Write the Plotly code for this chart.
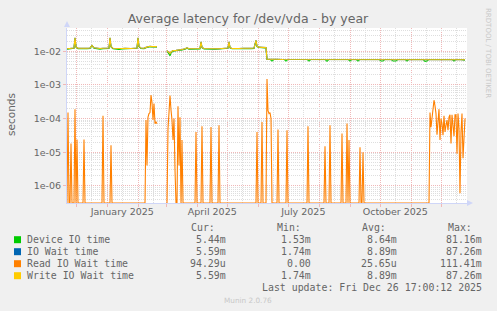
import math
import pandas as pd
import plotly.graph_objects as go

# ---------------- data ----------------
START = pd.Timestamp("2024-11-21 17:00")   # graph covers the last 400 days
SPAN_DAYS = 400

# Write IO Wait time (seconds) sampled at day offsets from START
level_days = [0, 2, 5, 7, 8, 9, 11, 14, 17, 20, 23, 25, 27, 30, 33, 36, 39, 42, 43, 44,
              46, 49, 52, 55, 58, 61, 64, 67, 70, 71, 72, 74, 77, 79, 81, 83, 85, 87, 89, 90,
              95,
              100, 102, 103, 104, 106, 109, 112, 115, 118, 120, 122, 125, 128, 131, 133, 134, 135, 137, 140,
              144, 148, 152, 156, 159, 161, 162, 163, 165, 168, 172, 176, 180, 184, 187, 189, 190, 192, 195, 198,
              199, 200, 204, 210, 216, 222, 228, 234, 240, 246, 252, 258, 264, 270, 276, 282, 288, 294, 300, 306,
              312, 318, 324, 330, 336, 342, 348, 354, 360, 366, 372, 378, 384, 390, 394, 398]
write_vals = [0.0118, 0.0121, 0.0123, 0.0125, 0.025, 0.0135, 0.0122, 0.0121, 0.0119, 0.0122,
              0.0124, 0.0150, 0.0126, 0.0121, 0.0120, 0.0122, 0.0121, 0.0124, 0.025, 0.0138,
              0.0122, 0.0120, 0.0119, 0.0121, 0.0122, 0.0120, 0.0121, 0.0123, 0.0125, 0.025,
              0.0140, 0.0124, 0.0122, 0.0130, 0.0138, 0.0140, 0.0137, 0.0141, 0.0138, 0.0136,
              None,
              0.0105, 0.0090, 0.0085, 0.0095, 0.0104, 0.0106, 0.0108, 0.0112, 0.0118, 0.0126,
              0.0118, 0.0117, 0.0118, 0.0117, 0.0120, 0.0190, 0.0130, 0.0120, 0.0118,
              0.0120, 0.0118, 0.0119, 0.0121, 0.0120, 0.0125, 0.0190, 0.0128, 0.0121, 0.0119,
              0.0121, 0.0122, 0.0120, 0.0122, 0.0124, 0.0210, 0.0140, 0.0132, 0.0130, 0.0131,
              0.0128, 0.0058, 0.0057, 0.0058, 0.0057, 0.0057, 0.0058, 0.0057, 0.0057, 0.0058,
              0.0057, 0.0057, 0.0057, 0.0058, 0.0057, 0.0057, 0.0056, 0.0057, 0.0057, 0.0058,
              0.0057, 0.0056, 0.0057, 0.0056, 0.0057, 0.0057, 0.0057, 0.0056, 0.0057, 0.0058,
              0.0057, 0.0057, 0.0057, 0.0056, 0.0057, 0.00559]
# IO Wait time is identical to Write IO Wait time (same Cur/Min/Avg/Max)
io_wait_vals = list(write_vals)

# Device IO time
device_days = [0, 2, 5, 7, 8, 9, 11, 14, 17, 20, 23, 25, 27, 30, 33, 36, 39, 42, 43, 44,
               46, 49, 52, 55, 58, 61, 64, 67, 70, 71, 72, 74, 77, 79, 81, 83, 85, 87, 89, 90,
               95,
               100, 102, 103, 104, 106, 109, 112, 115, 118, 120, 122, 125, 128, 131, 133, 134, 135, 137, 140,
               144, 148, 152, 156, 159, 161, 162, 163, 165, 168, 172, 176, 180, 184, 187, 189, 190, 192, 195, 198,
               199, 200, 203, 205, 207, 212, 217, 219, 221, 228, 235, 240, 242, 244, 252, 258, 260, 262, 270, 276,
               281, 283, 285, 289, 291, 293, 300, 306, 312, 314, 316, 318, 324, 326, 329, 331, 338, 340, 342, 350,
               356, 358, 360, 362, 370, 378, 385, 387, 389, 394, 398]
device_vals = [0.0115, 0.0118, 0.0121, 0.0123, 0.024, 0.0131, 0.0119, 0.0117, 0.0116, 0.0119,
               0.0121, 0.0147, 0.0123, 0.0117, 0.0115, 0.0119, 0.0117, 0.0121, 0.024, 0.0134,
               0.0118, 0.0114, 0.0113, 0.0117, 0.0119, 0.0116, 0.0117, 0.0120, 0.0122, 0.024,
               0.0136, 0.0120, 0.0118, 0.0126, 0.0134, 0.0136, 0.0133, 0.0137, 0.0134, 0.0132,
               None,
               0.0101, 0.0080, 0.0073, 0.0088, 0.0101, 0.0103, 0.0105, 0.0109, 0.0115, 0.0123,
               0.0115, 0.0114, 0.0115, 0.0114, 0.0117, 0.0185, 0.0127, 0.0117, 0.0115,
               0.0117, 0.0115, 0.0116, 0.0118, 0.0117, 0.0122, 0.0185, 0.0125, 0.0118, 0.0116,
               0.0118, 0.0119, 0.0117, 0.0119, 0.0121, 0.0205, 0.0137, 0.0129, 0.0127, 0.0128,
               0.0125, 0.0057, 0.0057, 0.0051, 0.0057, 0.0057, 0.0057, 0.0051, 0.0057, 0.0057,
               0.0057, 0.0057, 0.0051, 0.0057, 0.0057, 0.0057, 0.0050, 0.0057, 0.0057, 0.0057,
               0.0057, 0.0051, 0.0057, 0.0057, 0.0051, 0.0057, 0.0057, 0.0057, 0.0057, 0.0051,
               0.0051, 0.0057, 0.0057, 0.0051, 0.0051, 0.0057, 0.0057, 0.0051, 0.0057, 0.0057,
               0.0057, 0.0050, 0.0051, 0.0057, 0.0057, 0.0057, 0.0057, 0.0051, 0.0057, 0.0057,
               0.00544]

# Read IO Wait time (0 = idle)
read_days = [0, 1, 2, 3, 4, 5, 7, 8, 9, 10, 11, 16, 17, 18, 35, 36, 37, 43, 44, 45,
             78, 79, 80, 81, 82, 83, 84, 85, 86, 87, 88, 89, 90,
             95,
             100, 101, 102, 103, 104, 105, 106, 107, 108, 109, 110, 111, 112, 113, 114, 115, 116,
             128, 129, 130, 134, 135, 136, 143, 144, 145, 151, 152, 153,
             189, 190, 191, 194, 195, 196, 199, 200, 201, 202, 203, 204, 205,
             210, 211, 212, 219, 220, 221, 240, 241, 242, 257, 258, 259, 262, 263, 264,
             274, 275, 276, 279, 280, 281, 282, 283, 292, 293, 294, 295, 296, 297,
             362, 363, 364, 365, 367, 368, 369, 370, 371, 372, 373, 374, 375, 376, 377, 378, 379, 380,
             381, 382, 383, 384, 385, 386, 387, 388, 389, 390, 391, 392, 393, 394, 395, 396, 397, 398]
read_vals = [0, 1.5e-4, 0, 0, 1.8e-5, 0, 0, 1.9e-4, 0, 2.4e-5, 0, 0, 2.4e-5, 0, 0, 1.2e-4, 0, 0, 1.6e-5, 0,
             0, 9e-5, 4e-6, 1.1e-4, 1.4e-4, 1.5e-4, 5e-4, 3e-4, 9e-5, 2.8e-4, 7e-5, 8e-5, 7e-5,
             None,
             0, 5e-5, 1.5e-4, 4.8e-4, 1.8e-4, 9e-5, 2.3e-5, 1e-4, 3e-6, 0, 0, 2.3e-4, 4e-6, 1.1e-4, 0, 2.3e-5, 0,
             0, 4e-5, 0, 0, 5.9e-5, 0, 0, 5.6e-5, 0, 0, 6.3e-5, 0,
             0, 4e-5, 0, 0, 7.9e-5, 0, 0, 1.5e-3, 1.7e-4, 1.4e-4, 1.5e-4, 1e-4, 0,
             0, 4.7e-5, 0, 0, 4.5e-5, 0, 0, 5.9e-5, 0, 0, 1.5e-5, 0, 0, 6.3e-5, 0,
             0, 3.6e-5, 0, 0, 7.1e-5, 0, 2.3e-5, 0, 0, 1.4e-5, 0, 0, 1e-5, 0,
             0, 1.5e-4, 5.5e-5, 1e-4, 3.5e-4, 2.4e-4, 1.4e-4, 3.3e-5, 9e-5, 1.9e-4, 2.3e-5, 1e-4, 7e-5, 3.2e-5,
             1.2e-4, 4e-5, 6.3e-5, 9e-5,
             4.5e-5, 1.1e-4, 1.3e-4, 1.8e-5, 1.3e-4, 6e-5, 3e-5, 1.3e-4, 1.3e-4, 9e-6, 1.4e-4, 5e-5, 6e-7,
             4e-5, 1.4e-4, 6.6e-6, 5e-5, 1e-4]

assert len(level_days) == len(write_vals)
assert len(device_days) == len(device_vals)
assert len(read_days) == len(read_vals)

series_names = ["Device IO time", "IO Wait time", "Read IO Wait time", "Write IO Wait time"]
series_colors = ["#00CC00", "#0066B3", "#FF8000", "#FFCC00"]
cur_text = ["5.44m", "5.59m", "94.29u", "5.59m"]
min_text = ["1.53m", "1.74m", "0.00", "1.74m"]
avg_text = ["8.64m", "8.89m", "25.65u", "8.89m"]
max_text = ["81.16m", "87.26m", "111.41m", "87.26m"]

x_label_dates = ["2025-01-16", "2025-04-16", "2025-07-16", "2025-10-16"]
x_label_text = ["January 2025", "April 2025", "July 2025", "October 2025"]
y_tick_vals = [1e-6, 1e-5, 1e-4, 1e-3, 1e-2]
y_tick_text = ["1e-06", "1e-05", "1e-04", "1e-03", "1e-02"]

# ---------------- figure ----------------
W, H = 497, 311
PL, PR, PT, PB = 67, 467, 28, 203
Y_RANGE = [-6.51, -1.31]
FONT_COL = "#666666"
MGRID = "#F0B8B8"
GRID = "#DEDEDE"
AXIS = "#CFD6F8"
LOG_FLOOR = 10 ** Y_RANGE[0]   # rrdtool draws zero at the bottom of a log scale


def px(x):
    return (x - PL) / (PR - PL)


def py(y):
    return (PB - y) / (PB - PT)


def to_dates(days):
    return [START + pd.Timedelta(days=d) for d in days]


fig = go.Figure()
plot_series = [
    (device_days, device_vals),
    (level_days, io_wait_vals),
    (read_days, [None if v is None else max(v, LOG_FLOOR) for v in read_vals]),
    (level_days, write_vals),
]
for (days, vals), name, col in zip(plot_series, series_names, series_colors):
    fig.add_trace(go.Scatter(x=to_dates(days), y=vals, mode="lines", name=name,
                             line=dict(color=col, width=1.1), connectgaps=False,
                             hoverinfo="skip"))

month_starts = pd.date_range("2024-12-01", "2025-12-01", freq="MS")
mid_months = month_starts + pd.Timedelta(days=15)
lab_map = dict(zip(pd.to_datetime(x_label_dates), x_label_text))
mid_text = [lab_map.get(m, "") for m in mid_months]

minor_y = [m * 10 ** e for e in range(-7, -1) for m in range(2, 10)
           if Y_RANGE[0] <= math.log10(m * 10 ** e) <= Y_RANGE[1]]

tick_font = dict(family="DejaVu Sans", size=9.5, color=FONT_COL)

fig.update_layout(
    width=W, height=H,
    margin=dict(l=PL, r=W - PR, t=PT, b=H - PB, pad=0),
    paper_bgcolor="#F0F0F0", plot_bgcolor="#FFFFFF",
    showlegend=False, hovermode=False,
    title=dict(text="Average latency for /dev/vda - by year", x=248 / W, y=1 - 19 / H,
               xanchor="center", yanchor="middle",
               font=dict(family="DejaVu Sans", size=12.5, color=FONT_COL)),
    xaxis=dict(type="date", range=[START, START + pd.Timedelta(days=SPAN_DAYS)],
               tickmode="array", tickvals=list(mid_months), ticktext=mid_text,
               ticks="", showgrid=True, gridcolor=GRID, griddash="1px,1px", gridwidth=1,
               minor=dict(tickmode="array", tickvals=list(month_starts), showgrid=True,
                          gridcolor=MGRID, griddash="1px,1px", gridwidth=1,
                          ticks="outside", ticklen=3, tickcolor=MGRID),
               showline=True, linecolor=AXIS, linewidth=1, zeroline=False,
               tickfont=tick_font, layer="below traces", fixedrange=True),
    yaxis=dict(type="log", range=Y_RANGE, tickmode="array", tickvals=y_tick_vals,
               ticktext=y_tick_text, ticks="outside", ticklen=3, tickcolor=MGRID,
               showgrid=True, gridcolor=MGRID, griddash="1px,1px", gridwidth=1,
               minor=dict(tickmode="array", tickvals=minor_y, showgrid=True,
                          gridcolor=GRID, griddash="1px,1px", gridwidth=1),
               showline=True, linecolor=AXIS, linewidth=1, zeroline=False,
               tickfont=tick_font, layer="below traces", fixedrange=True),
)

shapes = []
# axis arrows
shapes.append(dict(type="path", xref="paper", yref="paper", layer="above",
                   path=f"M {px(64)} {py(27)} L {px(70)} {py(27)} L {px(67)} {py(21)} Z",
                   fillcolor=AXIS, line=dict(width=0)))
shapes.append(dict(type="path", xref="paper", yref="paper", layer="above",
                   path=f"M {px(467)} {py(200)} L {px(467)} {py(206)} L {px(473)} {py(203)} Z",
                   fillcolor=AXIS, line=dict(width=0)))
# legend colour squares
row_y = [239.7, 251.7, 263.7, 275.7]
for yy, col in zip(row_y, series_colors):
    shapes.append(dict(type="rect", xref="paper", yref="paper",
                       x0=px(14), x1=px(21), y0=py(yy + 3.5), y1=py(yy - 3.5),
                       fillcolor=col, line=dict(width=0)))
fig.update_layout(shapes=shapes)

mono = dict(family="DejaVu Sans Mono", size=9.9, color=FONT_COL)
ann = []


def text(x, y, s, xanchor="left", font=mono, **kw):
    ann.append(dict(x=px(x), y=py(y), xref="paper", yref="paper", text=s, showarrow=False,
                    xanchor=xanchor, yanchor="middle", font=font, borderpad=0, **kw))


for hx, h in zip([190, 276, 361, 447], ["Cur:", "Min:", "Avg:", "Max:"]):
    text(hx, 227.7, h)
for i, yy in enumerate(row_y):
    text(26, yy, series_names[i])
    text(226.5, yy, cur_text[i], "right")
    text(312, yy, min_text[i], "right")
    text(397.5, yy, avg_text[i], "right")
    text(482.5, yy, max_text[i], "right")
text(482.5, 287.5, "Last update: Fri Dec 26 17:00:12 2025", "right")
text(248, 300.5, "Munin 2.0.76", "center",
     font=dict(family="DejaVu Sans", size=7.3, color="#C8C8C8"))
text(11, 114, "seconds", "center",
     font=dict(family="DejaVu Sans", size=10.5, color=FONT_COL), textangle=-90)
text(488.5, 52.5, "RRDTOOL / TOBI OETIKER", "center",
     font=dict(family="DejaVu Sans", size=7, color="#C8C8C8"), textangle=90)
fig.update_layout(annotations=ann)

fig.write_html("out.html", config={"displayModeBar": False, "staticPlot": True})
